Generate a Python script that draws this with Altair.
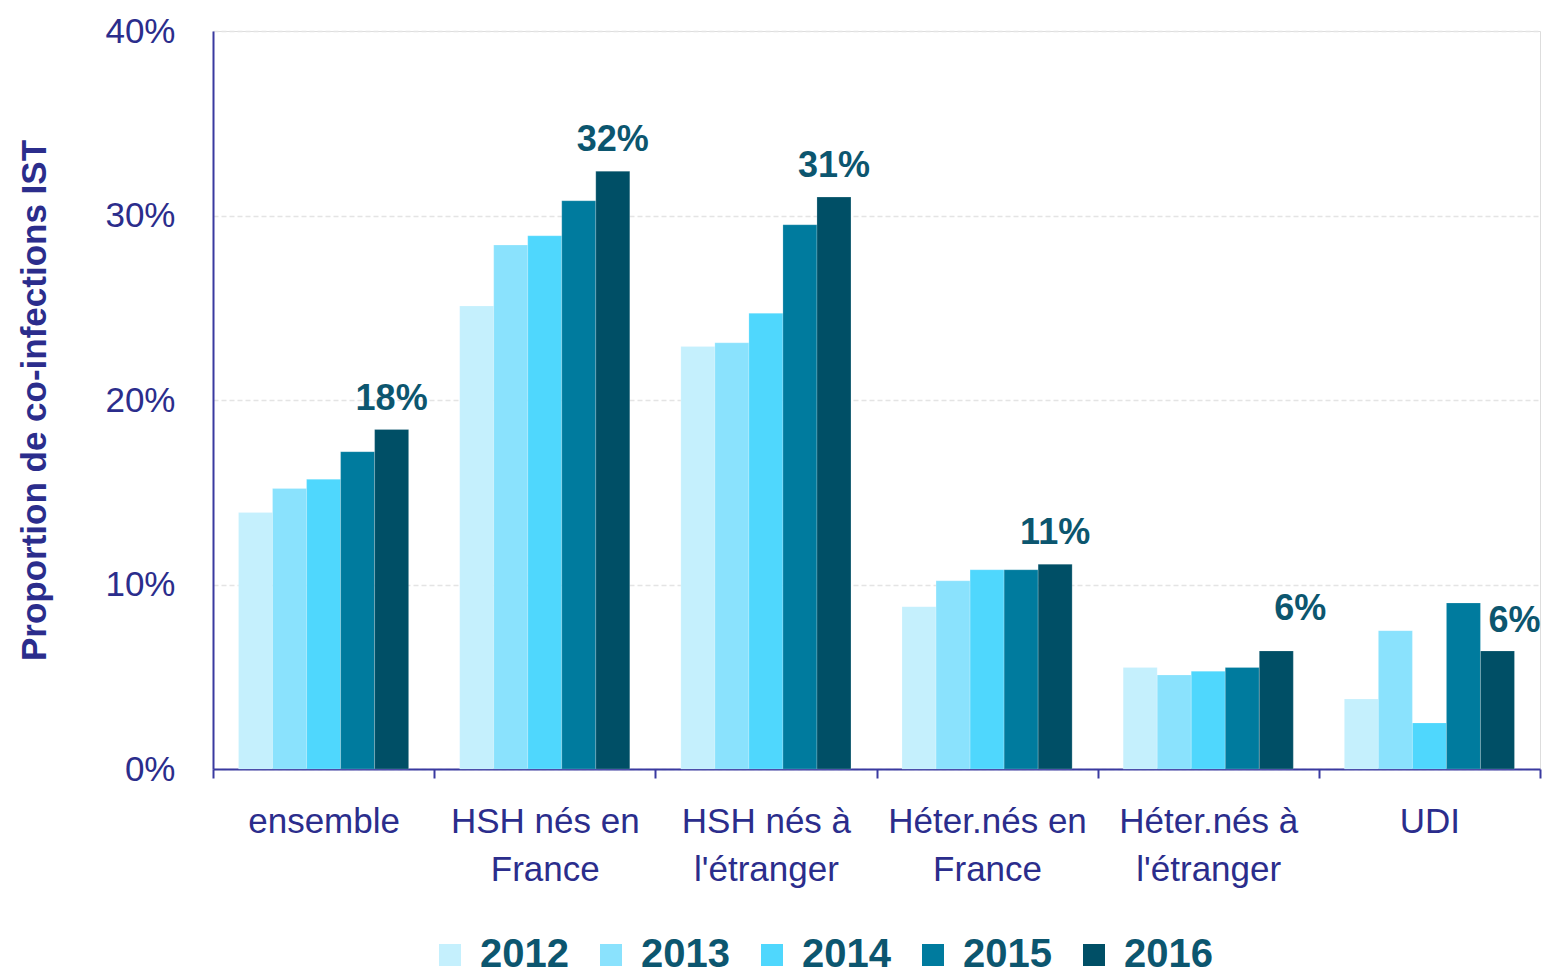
import altair as alt
import pandas as pd

categories = ["ensemble", "HSH nés en\nFrance", "HSH nés à\nl'étranger",
              "Héter.nés en\nFrance", "Héter.nés à\nl'étranger", "UDI"]
years = ["2012", "2013", "2014", "2015", "2016"]
v2012 = [13.9, 25.1, 22.9, 8.8, 5.5, 3.8]
v2013 = [15.2, 28.4, 23.1, 10.2, 5.1, 7.5]
v2014 = [15.7, 28.9, 24.7, 10.8, 5.3, 2.5]
v2015 = [17.2, 30.8, 29.5, 10.8, 5.5, 9.0]
v2016 = [18.4, 32.4, 31.0, 11.1, 6.4, 6.4]
labels_2016 = ["18%", "32%", "31%", "11%", "6%", "6%"]
colors = ["#c5f0fd", "#8ae2fd", "#4fd7fd", "#007b9e", "#004f66"]

series = [v2012, v2013, v2014, v2015, v2016]
rows = []
for y, vals in zip(years, series):
    for c, v in zip(categories, vals):
        rows.append({"cat": c, "year": y, "value": v / 100})
df = pd.DataFrame(rows)

lab = pd.DataFrame({"cat": categories, "year": "2016",
                    "value": [v / 100 for v in v2016], "label": labels_2016,
                    "group": ["a", "a", "a", "a", "b", "c"]})

FONT = "Liberation Sans, Arial, sans-serif"
NAVY = "#2b2d8c"
TEAL = "#0c566f"

xenc = alt.X("cat:N", sort=categories, title=None,
             scale=alt.Scale(paddingInner=0, paddingOuter=0),
             axis=alt.Axis(labelExpr="split(datum.label, '\\n')", labelAngle=0,
                           labelFont=FONT, labelFontSize=35, labelColor=NAVY,
                           labelLineHeight=48, labelPadding=26, labelLimit=400,
                           domainColor="#3a3aa0", domainWidth=2, tickColor="#3a3aa0",
                           tickWidth=2, tickSize=9, tickBand="extent", grid=False))
yenc = alt.Y("value:Q", title="Proportion de co-infections IST",
             scale=alt.Scale(domain=[0, 0.4]),
             axis=alt.Axis(format=".0%", values=[0, 0.1, 0.2, 0.3, 0.4],
                           labelFont=FONT, labelFontSize=35, labelColor=NAVY,
                           labelPadding=38, ticks=False,
                           domainColor="#3a3aa0", domainWidth=2,
                           grid=True, gridColor="#e4e4e4", gridDash=[5, 3], gridWidth=1.5,
                           titleFont=FONT, titleFontSize=35, titleFontWeight="bold",
                           titleColor=NAVY, titlePadding=52))

bars = alt.Chart(df).mark_bar(stroke="white", strokeWidth=0.5, strokeOpacity=0.4).encode(
    x=xenc, y=yenc,
    xOffset=alt.XOffset("year:N", sort=years,
                        scale=alt.Scale(paddingInner=0, paddingOuter=0.75)),
    color=alt.Color("year:N", sort=years,
                    scale=alt.Scale(domain=years, range=colors),
                    legend=alt.Legend(orient="none", direction="horizontal", title=None,
                                      legendX=217, legendY=904,
                                      symbolType="square", symbolSize=484,
                                      symbolStrokeWidth=0, symbolOpacity=1,
                                      labelFont=FONT, labelFontSize=40,
                                      labelFontWeight="bold", labelColor=TEAL,
                                      labelOffset=10, columnPadding=22,
                                      labelLimit=200)),
)

def text_layer(group, dx, dy):
    return alt.Chart(lab[lab.group == group]).mark_text(
        font=FONT, fontSize=36, fontWeight="bold", color=TEAL,
        dx=dx, dy=dy, baseline="alphabetic").encode(
        x=alt.X("cat:N", sort=categories),
        xOffset=alt.XOffset("year:N", sort=years),
        y="value:Q", text="label:N")

chart = alt.layer(
    bars,
    text_layer("a", 0, -20),
    text_layer("b", 24, -31),
    text_layer("c", 17, -19),
).properties(
    width=1327, height=738,
    autosize=alt.AutoSizeParams(type="none"),
    padding={"left": 205, "top": 23, "right": 4, "bottom": 205},
).configure_view(stroke=None).configure(background="white")

chart.save("out.html", embed_options={"renderer": "svg", "actions": False})
